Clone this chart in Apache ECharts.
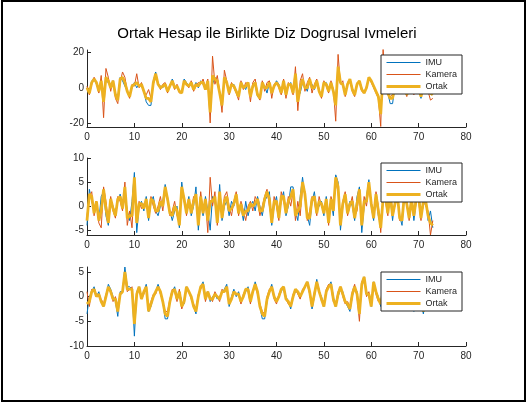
<!DOCTYPE html>
<html>
<head>
<meta charset="utf-8">
<script src="https://cdn.jsdelivr.net/npm/echarts@6/dist/echarts.min.js"></script>
<style>
  html, body { margin: 0; padding: 0; background: #fff; }
  #chart { width: 527px; height: 405px; }
</style>
</head>
<body>
<div id="chart"></div>
<script>
// sampling step of the recordings (x axis in samples/seconds)
const dt = 0.5;

const chartTitle = 'Ortak Hesap ile Birlikte Diz Dogrusal Ivmeleri';
const seriesNames = ['IMU', 'Kamera', 'Ortak'];
const xTicks = [0, 10, 20, 30, 40, 50, 60, 70, 80];
const yTicks1 = [-20, 0, 20];
const yTicks2 = [-5, 0, 5, 10];
const yTicks3 = [-10, -5, 0, 5];

// subplot 1
const imu1 = [0,-2,4,5,2,-2,3,-5,4,3,1,4,-3,-6,6,4,1,-2,-4,0,
  3,0,2,1,-2,-8,-10,-10,4,9,2,1,0,2,-1,1,5,1,0,-2,
  -3,5,3,1,2,-1,3,0,4,2,-1,3,-12,2,6,3,-3,-8,4,3,
  -2,1,2,-2,-4,3,1,-1,3,-3,0,2,-5,-6,2,1,-3,3,-2,1,
  4,2,-2,3,-3,1,3,-2,6,-5,-3,3,1,-2,4,2,-1,3,-2,-4,
  2,3,-1,2,-2,-6,11,3,1,-3,2,5,0,-4,2,4,0,-3,0,6,
  4,1,-2,-4,-12,3,2,-3,-9,-9,1,2,-2,0,2,-3,0,1,-2,2,
  0,-6,1,2,-1,0,-2];
const kamera1 = [1,-4,2,6,3,-3,7,-17,11,6,-2,4,-6,-9,3,9,6,-2,-6,2,
  1,8,0,3,-3,-4,-1,-6,2,6,3,-1,2,3,-3,2,3,-1,2,-3,
  -2,4,2,0,4,-2,1,3,2,5,0,5,-20,18,2,7,-2,-14,10,4,
  -4,3,0,-3,-7,4,-1,3,2,-8,3,5,-3,-7,4,-2,3,4,-6,2,
  3,0,-4,5,-6,3,1,-4,12,-13,4,8,-2,3,6,-3,2,5,-1,-6,
  4,1,-3,4,-1,-19,19,2,4,-5,3,5,-2,-5,3,3,-2,-3,1,5,
  3,0,-3,-6,-22,22,1,-4,-5,-4,2,0,-3,1,2,-5,1,0,-4,2,
  -1,-5,2,0,-2,-7,-6];
const ortak1 = [0,-3,3,5,3,-2,4,-8,6,4,0,4,-4,-7,5,6,3,-2,-5,1,
  2,3,1,2,-2,-6,-6,-8,3,8,2,0,1,2,-2,1,4,0,1,-2,
  -3,4,2,1,3,-1,2,1,3,3,-1,4,-14,7,5,4,-3,-10,6,3,
  -3,2,1,-2,-5,3,0,1,3,-5,1,3,-4,-6,3,0,0,3,-3,1,
  3,1,-3,4,-4,2,2,-3,8,-8,0,5,0,0,5,0,0,4,-2,-5,
  3,2,-2,3,-2,-10,12,3,2,-4,2,5,-1,-4,2,4,-1,-3,0,6,
  4,1,-2,-5,-15,8,2,-3,-6,-6,1,1,-2,0,2,-4,0,1,-3,2,
  0,-5,1,1,-1,-3,-4];

// subplot 2
const imu2 = [-4,3.5,1,-1,0.5,-3,2,3,-2,-4,1,0,-2,1,2.5,0,3,-1,-3,1,
  7,-5.5,0,1,-1,2,-3,1,2,-1,-2,0,1,4.5,1,-1,-3,-1,0,-4.5,
  5,1,-1,2,-2,0,4,-5,1,-2,2,-1,-5,2,1,-3,4.5,-3,0,1,
  -2,1,0,2,-1,0,-3,1,-2,0,1,-1,2,0,-2,1,2,3,-4,0,
  2,-2,1,3,-2,0,4,4,-1,-3,2,6,2,-2,-4,1,3,-1,0,1,
  -2,2,-3,1,-2,6.5,5,-5,0,2,-1,1,0,-3,2,4,-5.5,0,2,5.5,
  0,-3,2,-2,-4,1,3,-1,2,-3,1,2,-2,-4,3,0,-2,2,-3,1,
  3,-2,0,2,-3,-1,-4.5];
const kamera2 = [-2,2,3,-2,1,-3.5,-4.5,4,1,-3,2,-1,-2.5,2,1,-1,5,-4,-1,-4.5,
  5,-2,1,-0.5,0.5,1,-2,2,0,-1.5,0,2,-1,3,2,-2,-1,1,-2,-3,
  3,2,-2,1,-1,2,1,-3,3,-1,1,-5.5,6,0,3,-4,1,-2,2,3,
  0,-2,1,3,-2,1,-1,-3,0,1,-1,2,1,-2,0,2,3.5,0,-3,2,
  0,-3,3,1,-1,2,0,3,-3,1,-2,4,3,-3,-1,2,1,-2,2,0,
  -1,1,-4,2,0,5,3,-3,1,3,-2,0,2,-2,-1,3,-3,2,0,4,
  1,-2,3,0,-5.5,2,1,-2,3,-1,0,3,-3,-2,2,1,-3,1,-1,2,
  1,-3,2,0,-1,-6,-3];
const ortak2 = [-3,2.5,2,-1.5,1,-3,-1,3.5,-0.5,-3.5,1.5,-0.5,-2,1.5,2,-0.5,4,-2.5,-2,-2,
  6,-3.5,0.5,0.5,-0.5,1.5,-2.5,1.5,1,-1,-1,1,0,4,1.5,-1.5,-2,0,-1,-4,
  4,1.5,-1.5,1.5,-1.5,1,2.5,-4,2,-1.5,1.5,-3,1,1,2,-3.5,3,-2.5,1,2,
  -1,-0.5,0.5,2.5,-1.5,0.5,-2,-1,-1,0.5,0,0.5,1.5,-1,-1,1.5,3,1.5,-3.5,1,
  1,-2.5,2,2,-1.5,1,2,3.5,-2,-1,0,5,2.5,-2.5,-2.5,1.5,2,-1.5,1,0.5,
  -1.5,1.5,-3.5,1.5,-1,6,4,-4,0.5,2.5,-1.5,0.5,1,-2.5,0.5,3.5,-4,1,1,5,
  0.5,-2.5,2.5,-1,-4.5,1.5,2,-1.5,2.5,-2,0.5,2.5,-2.5,-3,2.5,0.5,-2.5,1.5,-2,1.5,
  2,-2.5,1,1,-2,-3.5,-4];

// subplot 3
const imu3 = [-3.5,0,1,2,0,1,-1,-2,0,2.5,1.5,0,-1,-4,1,1,6,2,2,1.5,
  -8,1,2,0,1,2.5,-3,-2,0,1,2.5,1,-1,-4.5,-4.5,-1,1,2,0,1,
  -1,-1.5,2,1,0,-2,-3.5,0,2,3,0,1,-1,0,0.5,-0.5,0,1,1.5,2.5,
  -2,0,1.5,0,1,-1,0,1,2,-1,1,3,1,-2,-4.5,-4.5,-1,1,2.5,0,
  -1,0,1,2,0,-1,-2.5,0,1,1,0,1,2,3,1,-2.5,0,3.5,1,0,
  -2,1,2,3,0,-2,0,1.5,1,-1,-2,-3,0,2,1,-3,2,4,1,0,
  -2,3,1,0,-2,1,2,0,-1,1,2,0,-2,1,2,0,-1,1,-3,0,
  1,-1,-3.5,0,1,-1,0];
const kamera3 = [1,-2,1.5,1,0.5,0,-0.5,-1.5,0.5,1.5,1,-1,0,-2,0.5,1,4,1,1.5,2,
  -4,0.5,1.5,-0.5,0.5,2,-2.5,-1,0.5,0.5,2,0.5,-1,-3,-3,-0.5,1.5,1,-1,1.5,
  -2.5,-1,1.5,1,-0.5,-1.5,-2.5,0.5,1.5,2.5,-1,1,0,-1,1,0,-1,1.5,1,2,
  -1,-0.5,1,0.5,0.5,-1.5,0.5,1.5,1,-1.5,1.5,2,0.5,-1.5,-3,-3.5,0,1.5,2,-0.5,
  -1.5,0.5,1.5,1.5,-0.5,-1.5,-2,0.5,1.5,0.5,-0.5,1.5,2,2.5,0.5,-2,1,3,1.5,-1,
  -1.5,1.5,2.5,2,-1,-1.5,1,2,0,-1.5,-1,-2,1,2.5,0,-5,3,4,0,1,
  -1.5,2.5,0.5,-1,-1,1.5,1,-0.5,-1,1.5,1,-1,-1,1.5,1,-0.5,-1.5,1,-2,0.5,
  0.5,-1.5,-2,0.5,0.5,-1,-0.5];
const ortak3 = [-1.5,-1,1,1.5,0,0.5,-1,-2,0,2,1,-0.5,-0.5,-3,0.5,1,5,1.5,1.5,1.5,
  -5.5,0.5,2,-0.5,1,2,-3,-1.5,0,1,2,1,-1,-3.5,-4,-1,1,1.5,-0.5,1,
  -2,-1,2,1,0,-2,-3,0,2,2.5,-0.5,1,-0.5,-0.5,0.5,0,-0.5,1,1,2,
  -1.5,-0.5,1,0.5,0.5,-1,0,1.5,1.5,-1,1,2.5,1,-2,-3.5,-4,-0.5,1,2,0,
  -1,0,1.5,2,-0.5,-1,-2,0,1.5,1,0,1,2,3,1,-2,0.5,3,1,-0.5,
  -2,1,2,2.5,-0.5,-2,0.5,2,0.5,-1,-1.5,-2.5,0.5,2,0.5,-3.5,2.5,4,0.5,0.5,
  -2,3,1,-0.5,-1.5,1,1.5,-0.5,-1,1,1.5,-0.5,-1.5,1,1.5,0,-1,1,-2.5,0,
  1,-1,-3,0,1,-1,0];

const panels = [
  { imu: imu1, kamera: kamera1, ortak: ortak1, min: -22.3, max: 21.5, ticks: yTicks1, top: 50, height: 77, legendTop: 55 },
  { imu: imu2, kamera: kamera2, ortak: ortak2, min: -6, max: 10, ticks: yTicks2, top: 158, height: 77, legendTop: 163 },
  { imu: imu3, kamera: kamera3, ortak: ortak3, min: -10, max: 6, ticks: yTicks3, top: 267, height: 79, legendTop: 272 }
];

const colors = ['#0072BD', '#D95319', '#EDB120'];
const widths = [1, 1, 2.8];
const axisColor = '#262626';
const font = 'Liberation Sans, Arial, Helvetica, sans-serif';

const toPoints = arr => arr.map((v, i) => [i * dt, v]);

const grids = [], xAxes = [], yAxes = [], series = [], legends = [];
panels.forEach((p, k) => {
  grids.push({ left: 87, width: 379, top: p.top, height: p.height });
  xAxes.push({
    type: 'value', gridIndex: k, min: 0, max: 80, interval: 10,
    axisLine: { onZero: false, lineStyle: { color: axisColor, width: 1 } },
    axisTick: { inside: true, length: 4, customValues: xTicks, lineStyle: { color: axisColor } },
    axisLabel: { color: axisColor, fontSize: 10, fontFamily: font, margin: 5, customValues: xTicks },
    splitLine: { show: false }
  });
  yAxes.push({
    type: 'value', gridIndex: k, min: p.min, max: p.max,
    axisLine: { show: true, onZero: false, lineStyle: { color: axisColor, width: 1 } },
    axisTick: { show: true, inside: true, length: 4, customValues: p.ticks, lineStyle: { color: axisColor } },
    axisLabel: { color: axisColor, fontSize: 10, fontFamily: font, margin: 3, customValues: p.ticks },
    splitLine: { show: false }
  });
  [p.imu, p.kamera, p.ortak].forEach((arr, j) => {
    series.push({
      name: seriesNames[j], type: 'line', xAxisIndex: k, yAxisIndex: k,
      data: toPoints(arr), symbol: 'none', showSymbol: false,
      lineStyle: { color: colors[j], width: widths[j] },
      itemStyle: { color: colors[j] },
      z: 2 + j
    });
  });
  legends.push({
    data: seriesNames.map((n, j) => ({ name: n, lineStyle: { width: j === 2 ? 3 : 1 } })),
    orient: 'vertical', left: 381, top: p.legendTop,
    itemWidth: 34, itemHeight: 10, itemGap: 3, padding: [3, 5, 3, 4],
    backgroundColor: '#fff', borderColor: axisColor, borderWidth: 1,
    itemStyle: { opacity: 0 },
    textStyle: { color: axisColor, fontSize: 9, fontFamily: font },
    selectedMode: false, z: 10
  });
});

const chart = echarts.init(document.getElementById('chart'), null, { renderer: 'canvas' });
chart.setOption({
  animation: false,
  backgroundColor: '#fff',
  grid: grids,
  xAxis: xAxes,
  yAxis: yAxes,
  legend: legends,
  series: series,
  graphic: [
    { type: 'rect', shape: { x: 2, y: 1, width: 523, height: 400 },
      style: { fill: 'none', stroke: '#000', lineWidth: 2 }, z: 100 },
    { type: 'text', x: 267, y: 34,
      style: { text: chartTitle, font: '15px ' + font, fill: '#000', textAlign: 'center', textVerticalAlign: 'middle' } }
  ]
});
</script>
</body>
</html>
